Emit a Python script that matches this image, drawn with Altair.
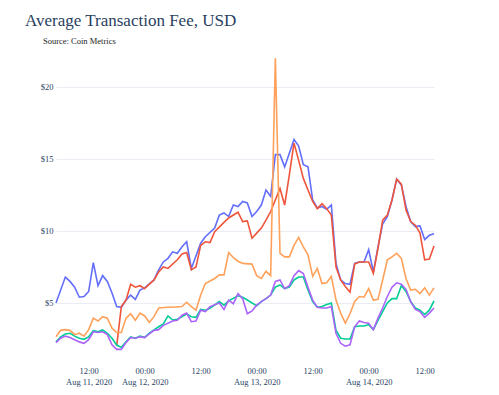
import altair as alt
import pandas as pd

TITLE = "Average Transaction Fee, USD"
SUBTITLE = "Source: Coin Metrics"

SERIES_NAMES = ["Series 1", "Series 2", "Series 3", "Series 4", "Series 5"]
SERIES_COLORS = ["#636efa", "#ef553b", "#00cc96", "#ab63fa", "#ffa15a"]

# hours counted from 2020-08-11 00:00 UTC
blue_hours = [5, 7, 8, 9, 10, 11, 12, 13, 14, 15, 16, 17, 18, 19, 20, 21, 22, 23, 24, 26, 27, 28, 29, 30, 31, 32, 33, 34, 36, 37, 39, 40, 41, 42, 43, 44, 45, 46, 47, 48, 49, 50, 51, 52, 53, 54, 55, 56, 57, 58, 59, 60, 61, 62, 63, 64, 65, 66, 67, 68, 69, 70, 71, 72, 73, 74, 75, 76, 77, 78, 79, 80, 81, 82, 83, 84, 85, 86]
blue_values = [5.0, 6.8, 6.5, 6.1, 5.4, 5.45, 5.8, 7.8, 6.2, 6.9, 6.5, 5.7, 4.75, 4.7, 5.2, 5.55, 5.25, 5.9, 6.05, 6.6, 7.3, 7.85, 8.1, 8.55, 8.45, 8.9, 9.25, 7.4, 9.15, 9.6, 10.2, 11.1, 11.25, 11.0, 11.8, 11.7, 12.05, 11.95, 11.0, 11.35, 11.8, 12.85, 12.4, 15.3, 15.3, 14.45, 15.4, 16.35, 15.9, 14.6, 14.45, 12.15, 11.6, 11.7, 11.5, 11.8, 7.75, 6.6, 6.35, 6.3, 7.75, 7.85, 7.85, 8.7, 7.15, 8.9, 10.5, 11.0, 12.15, 13.6, 13.2, 11.7, 10.65, 10.3, 10.35, 9.4, 9.7, 9.8]

red_hours = [18, 19, 20, 21, 22, 23, 24, 26, 27, 28, 29, 31, 32, 33, 34, 35, 36, 37, 38, 39, 41, 42, 44, 45, 46, 47, 48, 49, 50, 51, 52, 53, 54, 55, 56, 57, 58, 59, 60, 61, 62, 63, 64, 65, 66, 67, 68, 69, 70, 71, 72, 73, 74, 75, 76, 77, 78, 79, 80, 81, 82, 83, 84, 85, 86]
red_values = [2.0, 4.75, 5.2, 6.3, 6.1, 6.2, 6.0, 6.6, 7.15, 7.5, 7.4, 8.0, 8.4, 8.5, 7.3, 7.5, 9.0, 9.25, 9.2, 9.95, 10.6, 10.9, 11.3, 10.65, 10.7, 9.5, 9.85, 10.2, 10.75, 11.35, 12.15, 12.95, 11.8, 13.9, 16.1, 14.9, 13.65, 12.85, 12.05, 11.55, 11.9, 11.55, 11.1, 7.5, 6.6, 6.15, 5.75, 7.7, 7.85, 7.85, 7.85, 7.05, 8.8, 10.75, 11.1, 12.15, 13.6, 13.25, 11.45, 10.65, 10.4, 9.85, 8.0, 8.05, 8.95]

green_hours = [5, 6, 7, 8, 9, 10, 11, 12, 13, 14, 15, 16, 17, 18, 19, 20, 21, 22, 23, 24, 25, 26, 27, 28, 29, 30, 31, 33, 34, 35, 36, 37, 38, 40, 41, 42, 44, 45, 46, 48, 49, 50, 51, 52, 53, 54, 55, 56, 57, 58, 59, 60, 61, 62, 63, 64, 65, 66, 67, 68, 69, 70, 71, 72, 73, 74, 75, 76, 77, 78, 79, 80, 81, 82, 83, 84, 85, 86]
green_values = [2.3, 2.65, 2.85, 2.9, 2.7, 2.55, 2.48, 2.65, 3.08, 3.0, 3.13, 2.9, 2.55, 2.08, 1.92, 2.3, 2.65, 2.55, 2.7, 2.62, 2.9, 3.13, 3.35, 3.55, 4.1, 3.82, 3.87, 4.24, 4.05, 4.0, 4.55, 4.5, 4.63, 5.1, 4.85, 5.15, 5.5, 5.4, 5.21, 4.8, 5.1, 5.3, 5.55, 6.1, 6.25, 6.0, 6.1, 6.6, 6.8, 6.8, 5.9, 5.1, 4.7, 4.75, 4.9, 5.0, 3.1, 2.55, 2.5, 2.5, 3.35, 3.4, 3.4, 3.5, 3.15, 3.8, 4.4, 5.0, 5.3, 5.3, 6.2, 5.8, 5.1, 4.65, 4.5, 4.2, 4.5, 5.15]

purple_hours = [5, 6, 7, 8, 9, 10, 11, 12, 13, 14, 15, 16, 17, 18, 19, 20, 21, 22, 23, 24, 25, 26, 27, 28, 30, 31, 32, 33, 34, 35, 36, 37, 38, 40, 41, 42, 43, 44, 45, 46, 47, 48, 49, 50, 51, 52, 53, 54, 55, 56, 57, 58, 59, 60, 61, 62, 63, 64, 65, 66, 67, 68, 69, 70, 71, 72, 73, 74, 75, 76, 77, 78, 79, 80, 81, 82, 83, 84, 85, 86]
purple_values = [2.25, 2.55, 2.7, 2.6, 2.45, 2.3, 2.2, 2.45, 3.0, 2.95, 3.0, 2.8, 2.1, 1.78, 1.78, 2.25, 2.6, 2.55, 2.65, 2.6, 2.85, 3.1, 3.15, 3.45, 3.75, 3.8, 4.15, 4.3, 3.7, 3.75, 4.5, 4.4, 4.75, 5.0, 4.55, 5.2, 4.95, 5.65, 5.3, 4.25, 4.45, 4.85, 5.1, 5.3, 5.55, 6.5, 6.6, 6.0, 6.2, 6.9, 7.25, 7.05, 6.1, 5.2, 4.7, 4.65, 4.65, 4.75, 2.9, 2.2, 2.0, 2.1, 3.35, 3.75, 3.65, 3.6, 3.15, 3.95, 4.65, 5.45, 6.1, 6.4, 6.3, 5.95, 5.1, 4.55, 4.4, 4.0, 4.3, 4.65]

orange_hours = [5, 6, 7, 8, 9, 10, 11, 12, 13, 14, 15, 16, 17, 18, 19, 20, 21, 22, 23, 24, 25, 26, 27, 29, 30, 32, 33, 34, 35, 36, 37, 39, 40, 41, 42, 43, 44, 45, 47, 48, 49, 50, 51, 52, 53, 54, 55, 56, 57, 58, 59, 60, 61, 62, 63, 64, 65, 66, 67, 68, 69, 70, 71, 72, 73, 74, 75, 76, 77, 78, 79, 80, 81, 82, 83, 84, 85, 86]
orange_values = [2.65, 3.1, 3.15, 3.1, 2.8, 2.9, 2.7, 3.15, 3.95, 3.75, 4.05, 3.95, 3.25, 2.95, 2.95, 3.95, 4.25, 3.8, 4.3, 4.1, 3.65, 4.05, 4.65, 4.7, 4.7, 4.75, 5.05, 4.75, 4.5, 5.55, 6.35, 6.7, 6.95, 6.95, 8.5, 8.15, 7.9, 7.75, 7.7, 6.9, 6.7, 7.2, 6.9, 22.0, 8.45, 8.2, 8.2, 9.0, 9.55, 8.9, 8.35, 6.85, 7.4, 6.35, 6.4, 6.85, 5.2, 4.3, 3.6, 4.25, 5.1, 5.45, 5.4, 6.0, 5.2, 5.25, 6.6, 8.0, 8.2, 8.45, 8.1, 6.7, 5.9, 5.95, 5.65, 6.05, 5.55, 6.05]

Y_TICKS = [5, 10, 15, 20]
X_TICK_HOURS = [12, 24, 36, 48, 60, 72, 84]

BASE = pd.Timestamp("2020-08-11T00:00:00Z")


def to_iso(h):
    return (BASE + pd.Timedelta(hours=h)).strftime("%Y-%m-%dT%H:%M:%SZ")


def to_ms(h):
    return int((BASE + pd.Timedelta(hours=h)).timestamp() * 1000)


frames = []
for name, hrs, vals in zip(
    SERIES_NAMES,
    [blue_hours, red_hours, green_hours, purple_hours, orange_hours],
    [blue_values, red_values, green_values, purple_values, orange_values],
):
    frames.append(pd.DataFrame({"series": name, "time": [to_iso(h) for h in hrs], "value": vals}))
df = pd.concat(frames, ignore_index=True)

label_expr = (
    "utchours(datum.value) == 0 ? ['00:00', utcFormat(datum.value, '%b %d, %Y')] : "
    "(utcdate(datum.value) == 11 ? ['12:00', utcFormat(datum.value, '%b %d, %Y')] : '12:00')"
)

lines = alt.Chart(df).mark_line(strokeWidth=1.6, clip=False).encode(
    x=alt.X(
        "time:T",
        scale=alt.Scale(type="utc", domain=[to_ms(5), to_ms(86)]),
        axis=alt.Axis(
            values=[to_ms(h) for h in X_TICK_HOURS],
            labelExpr=label_expr,
            title=None,
            domain=False,
            ticks=False,
            grid=False,
            labelPadding=16,
            labelLineHeight=11,
            labelAngle=0,
            labelFlush=False,
            labelOverlap=False,
        ),
    ),
    y=alt.Y(
        "value:Q",
        scale=alt.Scale(domain=[1.736, 22.01], nice=False, zero=False),
        axis=alt.Axis(
            values=Y_TICKS,
            format="$.0f",
            title=None,
            domain=False,
            ticks=False,
            grid=True,
            gridColor="#e9edf3",
            gridWidth=1,
            labelPadding=3,
        ),
    ),
    color=alt.Color(
        "series:N",
        scale=alt.Scale(domain=SERIES_NAMES, range=SERIES_COLORS),
        legend=None,
    ),
)

subtitle = alt.Chart(pd.DataFrame({"text": [SUBTITLE]})).mark_text(
    align="left", baseline="alphabetic", font="Liberation Serif", fontSize=8.5, color="#222222"
).encode(x=alt.value(-13), y=alt.value(-14.5), text="text:N")

chart = (
    alt.layer(lines, subtitle)
    .properties(
        width=378,
        height=292,
        padding={"left": 48, "top": 50, "right": 50, "bottom": 40},
        autosize=alt.AutoSizeParams(type="none"),
        title=alt.TitleParams(
            text=TITLE,
            anchor="start",
            frame="group",
            dx=-31,
            dy=20,
            offset=14,
            baseline="alphabetic",
            font="Liberation Serif",
            fontSize=17,
            fontWeight="normal",
            color="#2a3f5f",
        ),
    )
    .configure_view(stroke=None)
    .configure_axis(
        labelFont="Liberation Serif",
        labelFontSize=8.5,
        labelColor="#2a3f5f",
    )
)

chart.save("out.html", embed_options={"renderer": "svg", "actions": False})
